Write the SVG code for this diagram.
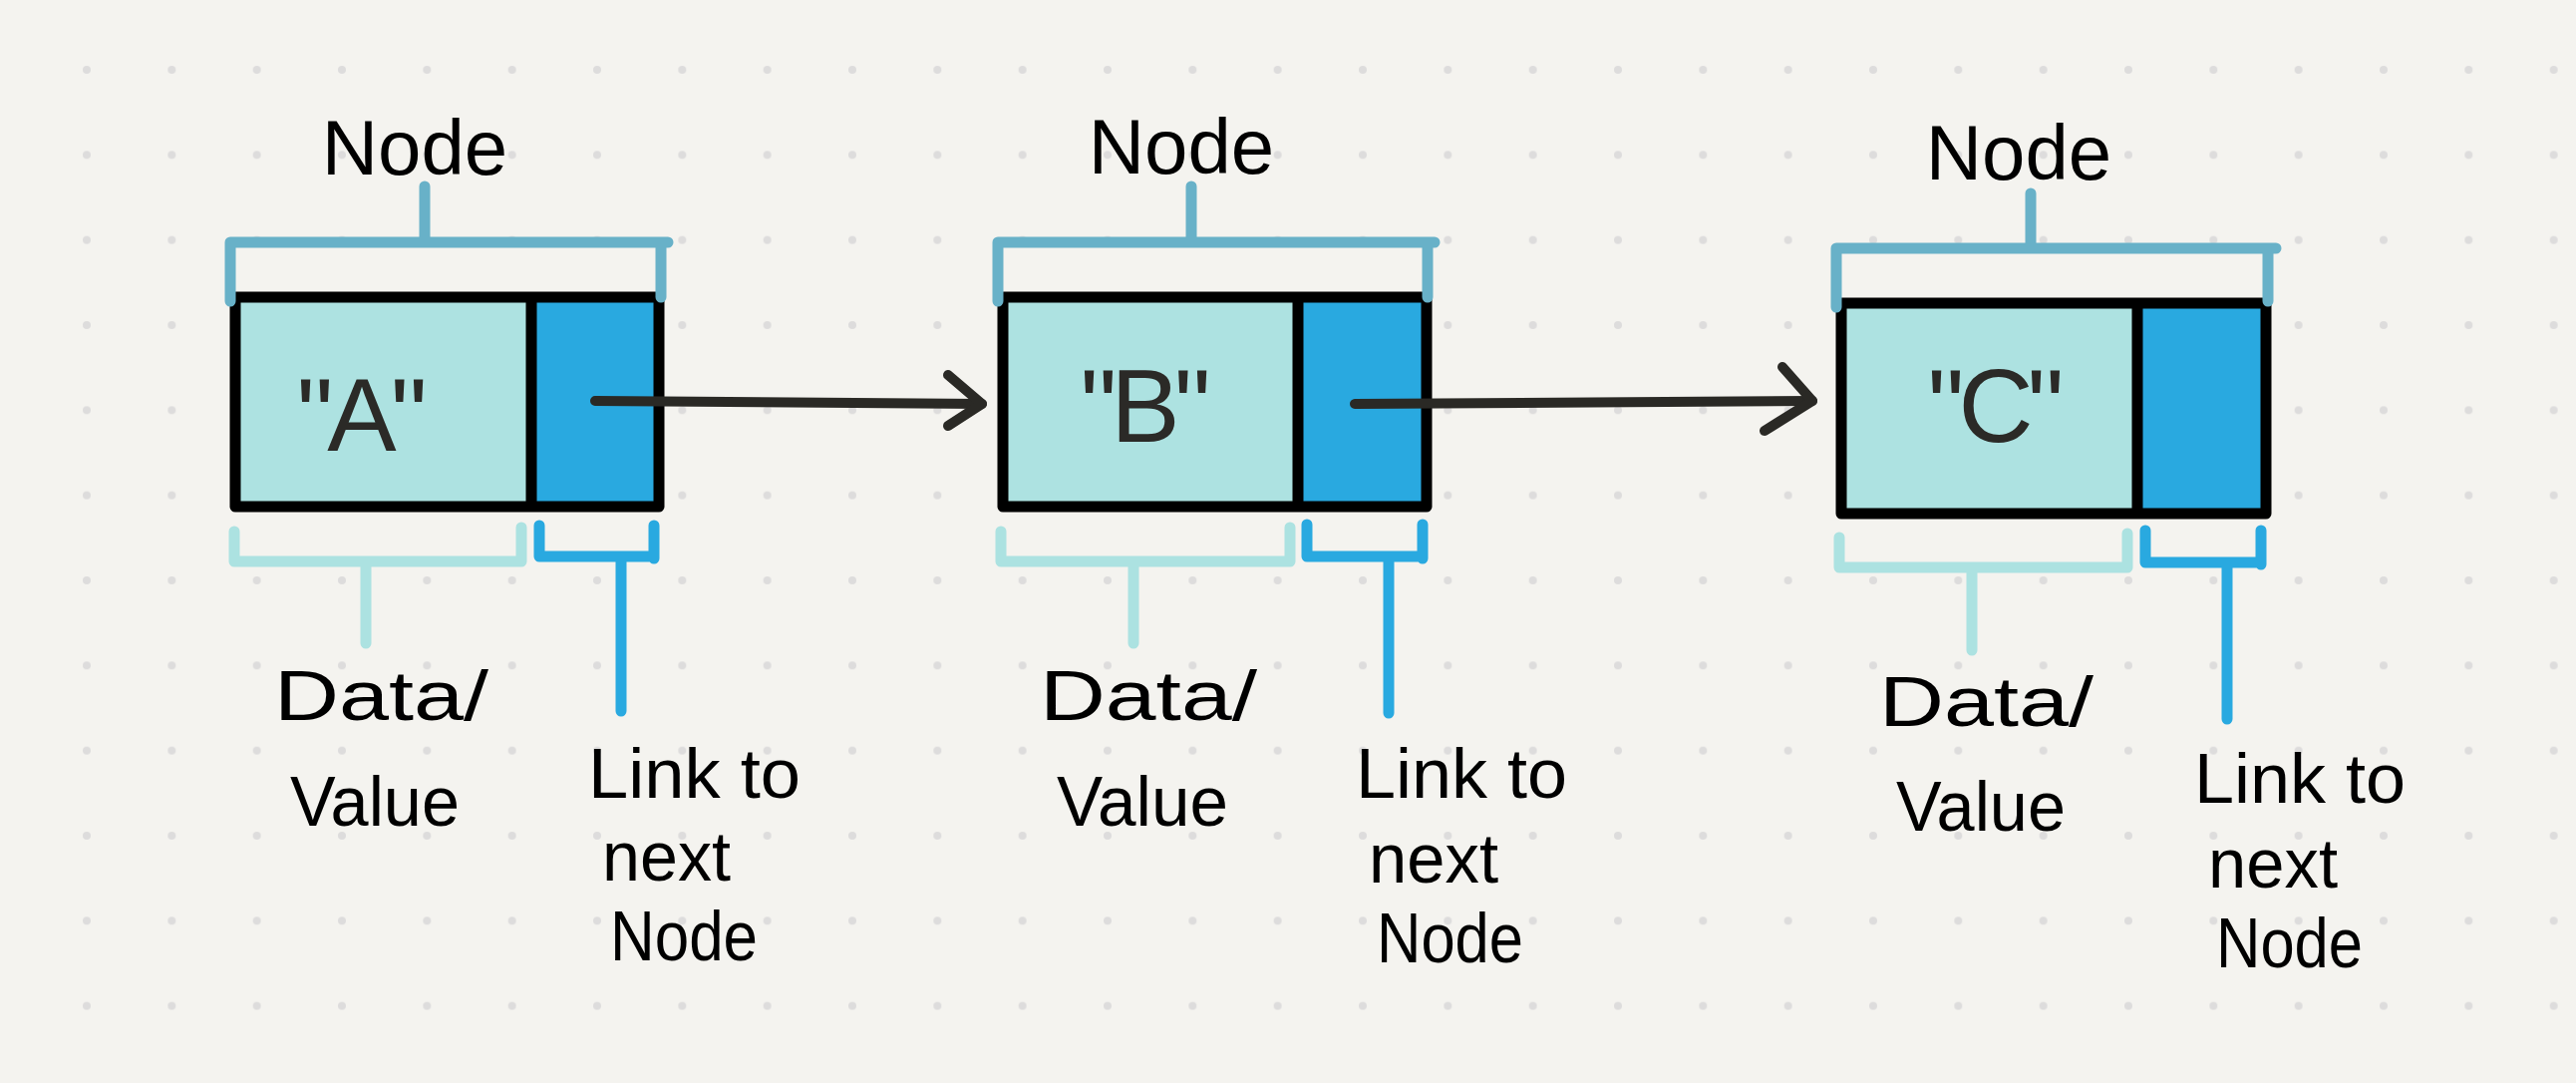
<svg xmlns="http://www.w3.org/2000/svg" width="2584" height="1086" viewBox="0 0 2584 1086">
  <defs>
    <pattern id="dots" x="44.333" y="27.333" width="85.333" height="85.333" patternUnits="userSpaceOnUse">
      <circle cx="42.667" cy="42.667" r="4" fill="#dddcdc"/>
    </pattern>
    <style>
      .bg { fill: #f4f3ef; }
      .data { fill: #ade2e1; }
      .link { fill: #29a9e0; }
      .box { fill: none; stroke: #000; stroke-width: 11; stroke-linejoin: round; stroke-linecap: round; }
      .div { stroke: #000; stroke-width: 11; stroke-linecap: butt; }
      .brk-node { fill: none; stroke: #68b1c8; stroke-width: 11; stroke-linecap: round; stroke-linejoin: round; }
      .brk-data { fill: none; stroke: #ace2e1; stroke-width: 11; stroke-linecap: round; stroke-linejoin: round; }
      .brk-link { fill: none; stroke: #29a9e0; stroke-width: 11; stroke-linecap: round; stroke-linejoin: round; }
      .conn { fill: none; stroke: #2a2925; stroke-width: 10; stroke-linecap: round; stroke-linejoin: round; }
      .title { font-family: "Liberation Sans", Arial, sans-serif; font-size: 78px; fill: #000; text-anchor: middle; }
      .val { font-family: "Liberation Sans", Arial, sans-serif; font-size: 104px; fill: #2b2a27; text-anchor: middle; }
      .lbl { font-family: "Liberation Sans", Arial, sans-serif; font-size: 70px; fill: #000; }
    </style>
  </defs>

  <rect class="bg" x="0" y="0" width="2584" height="1086"/>
  <rect x="44.333" y="27.333" width="2560" height="1024" fill="url(#dots)"/>

  <!-- Node A -->
  <g id="node-a">
    <rect class="data" x="236" y="298" width="297" height="210"/>
    <rect class="link" x="533" y="298" width="128" height="210"/>
    <rect class="box" x="236" y="298" width="425" height="210"/>
    <line class="div" x1="533" y1="298" x2="533" y2="508"/>
    <text class="val" x="360" y="452" letter-spacing="-6">"A"</text>
  </g>
  <g id="node-a-labels">
    <path class="brk-node" d="M231,302 V243 H670 M663,243 V298 M426,187 V243"/>
    <text class="title" x="416" y="175">Node</text>
    <path class="brk-data" d="M235,533 V563 H523 M523,529 V563 M367,563 V645"/>
    <path class="brk-link" d="M541,527 V558 H656 M656,527 V560 M623,558 V713"/>
    <text class="lbl" x="275" y="722" textLength="215" lengthAdjust="spacingAndGlyphs">Data/</text>
    <text class="lbl" x="291" y="828" textLength="170" lengthAdjust="spacingAndGlyphs">Value</text>
    <text class="lbl" x="590" y="800" textLength="213" lengthAdjust="spacingAndGlyphs">Link to</text>
    <text class="lbl" x="604" y="883" textLength="129" lengthAdjust="spacingAndGlyphs">next</text>
    <text class="lbl" x="612" y="963" textLength="148" lengthAdjust="spacingAndGlyphs">Node</text>
  </g>

  <!-- Node B -->
  <g id="node-b">
    <rect class="data" x="1006" y="298" width="296" height="210"/>
    <rect class="link" x="1302" y="298" width="129" height="210"/>
    <rect class="box" x="1006" y="298" width="425" height="210"/>
    <line class="div" x1="1302" y1="298" x2="1302" y2="508"/>
    <text class="val" x="1146" y="443" letter-spacing="-6">"B"</text>
  </g>
  <g id="node-b-labels">
    <path class="brk-node" d="M1001,302 V243 H1439 M1432,243 V298 M1195,187 V243"/>
    <text class="title" x="1185" y="174">Node</text>
    <path class="brk-data" d="M1004,533 V563 H1294 M1294,529 V563 M1137,563 V645"/>
    <path class="brk-link" d="M1311,526 V558 H1427 M1427,526 V560 M1393,558 V715"/>
    <text class="lbl" x="1043" y="722" textLength="218" lengthAdjust="spacingAndGlyphs">Data/</text>
    <text class="lbl" x="1060" y="828" textLength="172" lengthAdjust="spacingAndGlyphs">Value</text>
    <text class="lbl" x="1360" y="800" textLength="212" lengthAdjust="spacingAndGlyphs">Link to</text>
    <text class="lbl" x="1373" y="885" textLength="130" lengthAdjust="spacingAndGlyphs">next</text>
    <text class="lbl" x="1381" y="965" textLength="147" lengthAdjust="spacingAndGlyphs">Node</text>
  </g>

  <!-- Node C -->
  <g id="node-c">
    <rect class="data" x="1847" y="304" width="297" height="211"/>
    <rect class="link" x="2144" y="304" width="129" height="211"/>
    <rect class="box" x="1847" y="304" width="426" height="211"/>
    <line class="div" x1="2144" y1="304" x2="2144" y2="515"/>
    <text class="val" x="1999" y="443" letter-spacing="-6">"C"</text>
  </g>
  <g id="node-c-labels">
    <path class="brk-node" d="M1842,308 V249 H2283 M2275,249 V302 M2037,194 V249"/>
    <text class="title" x="2025" y="180">Node</text>
    <path class="brk-data" d="M1845,539 V569 H2134 M2134,535 V569 M1978,569 V652"/>
    <path class="brk-link" d="M2152,532 V564 H2268 M2268,532 V566 M2234,564 V721"/>
    <text class="lbl" x="1885" y="728" textLength="215" lengthAdjust="spacingAndGlyphs">Data/</text>
    <text class="lbl" x="1902" y="833" textLength="170" lengthAdjust="spacingAndGlyphs">Value</text>
    <text class="lbl" x="2201" y="805" textLength="212" lengthAdjust="spacingAndGlyphs">Link to</text>
    <text class="lbl" x="2215" y="890" textLength="130" lengthAdjust="spacingAndGlyphs">next</text>
    <text class="lbl" x="2223" y="970" textLength="147" lengthAdjust="spacingAndGlyphs">Node</text>
  </g>

  <!-- Connectors -->
  <g id="connectors">
    <path class="conn" d="M597,402 L985,405"/>
    <path class="conn" d="M951,376 L985,405 L951,427"/>
    <path class="conn" d="M1359,405 L1818,402"/>
    <path class="conn" d="M1788,368 L1818,402 L1770,432"/>
  </g>
</svg>
